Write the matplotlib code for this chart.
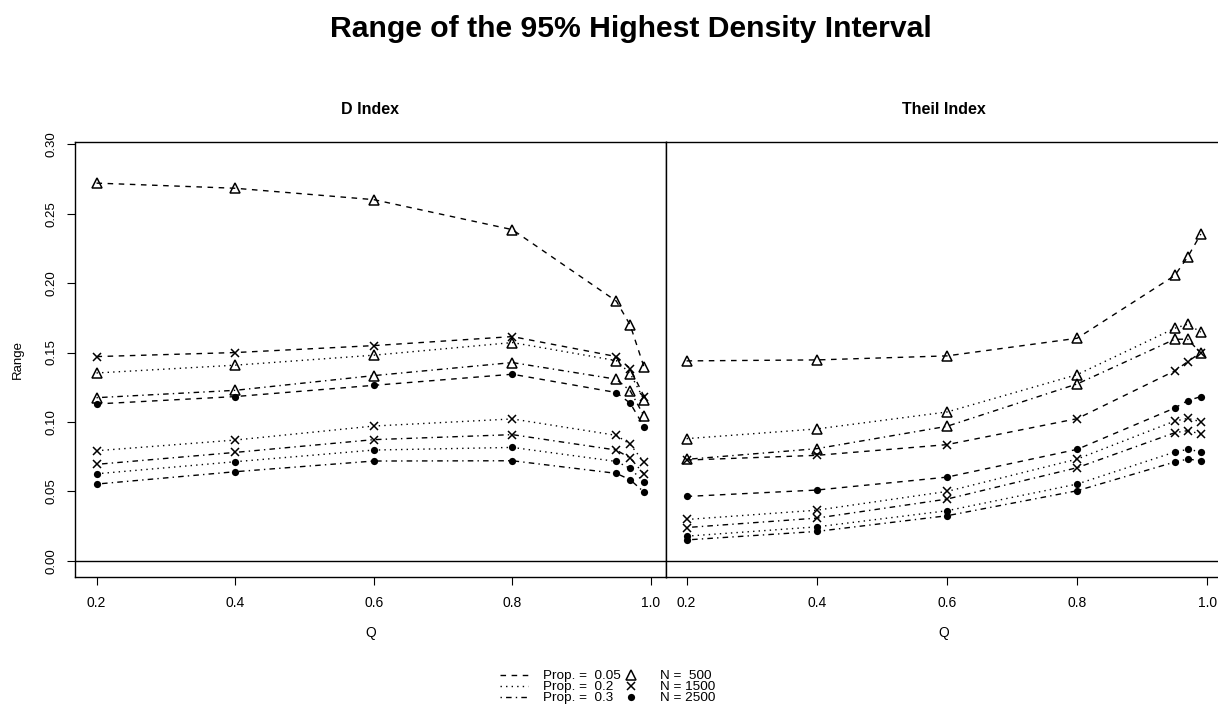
import numpy as np
import matplotlib
matplotlib.use('Agg')
import matplotlib.pyplot as plt
from matplotlib.lines import Line2D

plt.rcParams['font.family'] = ['Liberation Sans', 'DejaVu Sans']

Q = [0.2, 0.4, 0.6, 0.8, 0.95, 0.97, 0.99]

# D index: range of the 95% HDI by proportion and N
d_005_500 = [0.2720, 0.2683, 0.2601, 0.2385, 0.1870, 0.1697, 0.1394]
d_005_1500 = [0.1471, 0.1500, 0.1550, 0.1615, 0.1471, 0.1385, 0.1183]
d_005_2500 = [0.1130, 0.1183, 0.1264, 0.1344, 0.1212, 0.1135, 0.0966]
d_02_500 = [0.1353, 0.1409, 0.1481, 0.1572, 0.1442, 0.1349, 0.1159]
d_02_1500 = [0.0793, 0.0870, 0.0971, 0.1022, 0.0904, 0.0839, 0.0709]
d_02_2500 = [0.0627, 0.0714, 0.0798, 0.0817, 0.0716, 0.0666, 0.0565]
d_03_500 = [0.1175, 0.1228, 0.1334, 0.1428, 0.1308, 0.1224, 0.1043]
d_03_1500 = [0.0695, 0.0781, 0.0873, 0.0909, 0.0798, 0.0740, 0.0625]
d_03_2500 = [0.0553, 0.0642, 0.0719, 0.0721, 0.0630, 0.0584, 0.0495]

# Theil index
t_005_500 = [0.1440, 0.1447, 0.1476, 0.1603, 0.2055, 0.2190, 0.2353]
t_005_1500 = [0.0726, 0.0760, 0.0837, 0.1024, 0.1368, 0.1435, 0.1500]
t_005_2500 = [0.0464, 0.0510, 0.0603, 0.0803, 0.1101, 0.1154, 0.1183]
t_02_500 = [0.0880, 0.0950, 0.1072, 0.1341, 0.1675, 0.1704, 0.1647]
t_02_1500 = [0.0298, 0.0365, 0.0500, 0.0733, 0.1007, 0.1026, 0.1002]
t_02_2500 = [0.0178, 0.0245, 0.0361, 0.0553, 0.0784, 0.0803, 0.0786]
t_03_500 = [0.0731, 0.0808, 0.0969, 0.1274, 0.1596, 0.1596, 0.1495]
t_03_1500 = [0.0240, 0.0308, 0.0445, 0.0671, 0.0923, 0.0938, 0.0913]
t_03_2500 = [0.0151, 0.0212, 0.0325, 0.0505, 0.0712, 0.0733, 0.0721]

props = ['0.05', '0.2', '0.3']
sizes = ['500', '1500', '2500']
xticks = [0.2, 0.4, 0.6, 0.8, 1.0]
yticks = [0.00, 0.05, 0.10, 0.15, 0.20, 0.25, 0.30]

# line type per proportion, symbol per N
ltys = [(0, (4, 4)), (0, (1, 3)), (0, (1, 3, 4, 3))]
pchs = [dict(marker='^', ms=6.5, mfc='none', mec='k', mew=1.1),
        dict(marker='x', ms=5.8, mec='k', mew=1.1),
        dict(marker='o', ms=5.2, mfc='k', mec='k', mew=0)]

D = [[d_005_500, d_005_1500, d_005_2500],
     [d_02_500, d_02_1500, d_02_2500],
     [d_03_500, d_03_1500, d_03_2500]]
T = [[t_005_500, t_005_1500, t_005_2500],
     [t_02_500, t_02_1500, t_02_2500],
     [t_03_500, t_03_1500, t_03_2500]]

fig = plt.figure(figsize=(12.18, 7.08), dpi=100)
ax1 = fig.add_axes([0.06125, 0.18503, 0.48555, 0.6144])
ax2 = fig.add_axes([0.5468, 0.18503, 0.456, 0.6144])

for ax, data, title in [(ax1, D, 'D Index'), (ax2, T, 'Theil Index')]:
    for i in range(3):
        for j in range(3):
            ax.plot(Q, data[i][j], color='k', lw=1.0, ls=ltys[i], **pchs[j])
    ax.axhline(0, color='k', lw=1.0)
    ax.set_xlim(0.1684, 1.0216)
    ax.set_ylim(-0.0116, 0.3016)
    ax.set_xticks(xticks)
    ax.set_xticklabels(['0.2', '0.4', '0.6', '0.8', '1.0'])
    ax.tick_params(axis='x', direction='out', length=5.5, width=0.8,
                   labelsize=10, pad=8)
    for s in ax.spines.values():
        s.set_linewidth(1.0)
    ax.set_title(title, fontsize=11.5, fontweight='bold', y=1.0644,
                 va='baseline', pad=0)
    ax.set_xlabel('Q', fontsize=10, va='center')
    ax.xaxis.set_label_coords(0.5, -0.1287)

ax1.set_yticks(yticks)
ax1.set_yticklabels(['%.2f' % v for v in yticks], rotation=90, va='center')
ax1.tick_params(axis='y', direction='out', length=5.5, width=0.8,
                labelsize=9.5, pad=7)
ax1.set_ylabel('Range', fontsize=9.5, va='center')
ax1.yaxis.set_label_coords(-0.0957, 0.5)
ax2.set_yticks([])

fig.text(0.518, 0.9473, 'Range of the 95% Highest Density Interval',
         ha='center', va='baseline', fontsize=21.7, fontweight='bold')

handles = [Line2D([], [], color='k', lw=1.0, ls=l) for l in ltys]
handles += [Line2D([], [], color='k', ls='none', **p) for p in pchs]
labels = ['Prop. =  ' + p for p in props]
labels += ['N =  ' + n if len(n) < 4 else 'N = ' + n for n in sizes]
fig.legend(handles, labels, ncol=2, loc='upper left',
           bbox_to_anchor=(500 / 1218, 1 - 670 / 708), frameon=False,
           fontsize=9.7, handlelength=2.1, handletextpad=1.1,
           columnspacing=-0.3, labelspacing=-0.11, borderpad=0,
           borderaxespad=0)

fig.savefig('out.png', dpi=100)
